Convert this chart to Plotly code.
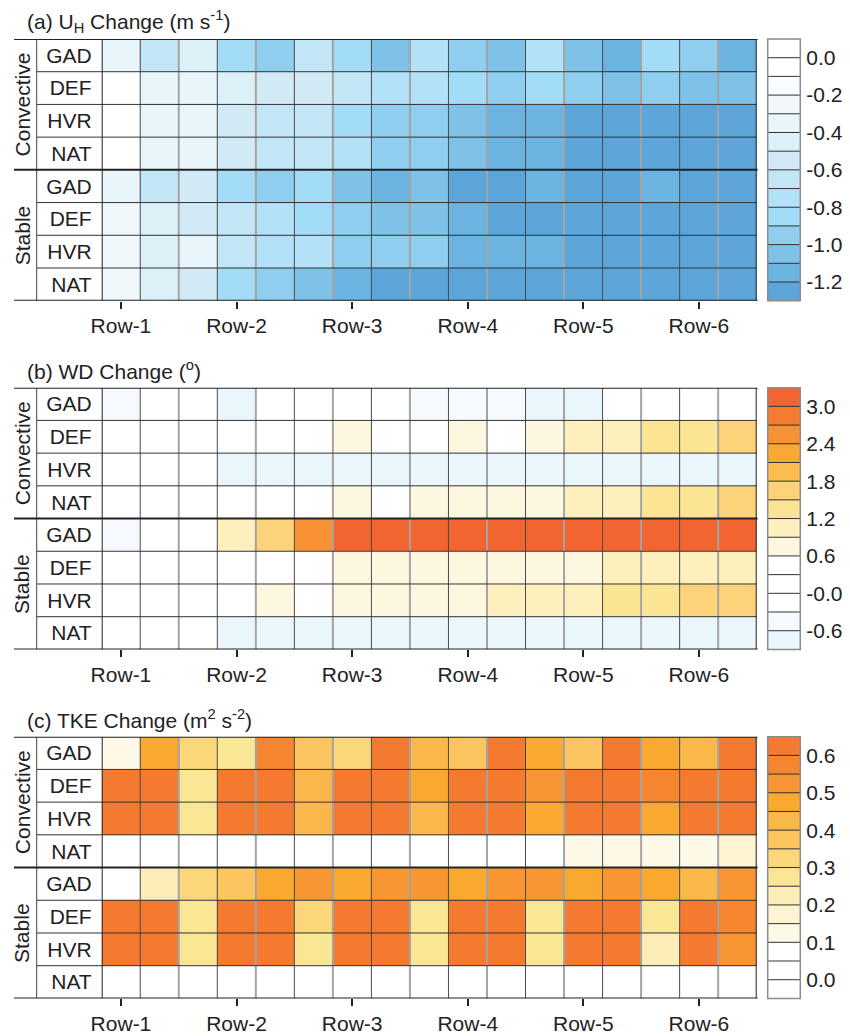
import plotly.graph_objects as go

FIG_W, FIG_H = 850, 1036
FONT = "Liberation Sans, Arial, Helvetica, sans-serif"
INK = "#222222"

row_labels = ["GAD", "DEF", "HVR", "NAT", "GAD", "DEF", "HVR", "NAT"]
group_labels = ["Convective", "Stable"]
turbine_cols = list(range(17))
row_tick_pos = [0, 3, 6, 9, 12, 15]
row_tick_text = ["Row-1", "Row-2", "Row-3", "Row-4", "Row-5", "Row-6"]

# (a) hub-height wind speed change (m/s); rows GAD, DEF, HVR, NAT
uh_convective = [
    [-0.35, -0.65, -0.45, -0.85, -0.95, -0.65, -0.85, -1.05, -0.75, -0.95, -1.05, -0.75, -1.05, -1.15, -0.85, -0.95, -1.15],
    [-0.05, -0.32, -0.32, -0.45, -0.55, -0.55, -0.65, -0.75, -0.75, -0.85, -0.95, -0.85, -0.95, -1.05, -0.95, -1.05, -1.05],
    [-0.05, -0.32, -0.32, -0.55, -0.65, -0.65, -0.85, -0.95, -0.95, -1.05, -1.15, -1.15, -1.25, -1.25, -1.25, -1.25, -1.25],
    [-0.05, -0.32, -0.32, -0.55, -0.65, -0.65, -0.75, -0.95, -0.95, -1.05, -1.15, -1.15, -1.25, -1.25, -1.25, -1.25, -1.25],
]
uh_stable = [
    [-0.35, -0.65, -0.55, -0.85, -0.95, -0.85, -1.05, -1.15, -1.05, -1.25, -1.25, -1.15, -1.25, -1.25, -1.15, -1.25, -1.25],
    [-0.25, -0.45, -0.55, -0.65, -0.75, -0.85, -0.95, -1.05, -1.05, -1.15, -1.25, -1.25, -1.25, -1.25, -1.25, -1.25, -1.25],
    [-0.25, -0.45, -0.35, -0.65, -0.75, -0.75, -0.95, -0.95, -0.95, -1.15, -1.15, -1.15, -1.25, -1.25, -1.25, -1.25, -1.25],
    [-0.25, -0.45, -0.55, -0.85, -0.95, -1.05, -1.15, -1.25, -1.25, -1.25, -1.25, -1.25, -1.25, -1.25, -1.25, -1.25, -1.25],
]

# (b) wind direction change (degrees)
wd_convective = [
    [-0.45, -0.1, -0.1, -0.75, 0.1, 0.1, 0.1, 0.1, -0.45, -0.45, -0.45, -0.75, -0.75, 0.1, 0.1, 0.1, 0.1],
    [0.1, 0.1, 0.1, 0.1, 0.1, 0.1, 0.75, 0.1, 0.1, 0.75, 0.1, 0.75, 1.05, 1.05, 1.35, 1.35, 1.65],
    [0.1, 0.1, 0.1, -0.75, -0.75, -0.75, -0.75, -0.75, -0.75, -0.75, -0.75, -0.75, -0.75, -0.75, -0.75, -0.75, -0.75],
    [0.1, 0.1, 0.1, 0.1, 0.1, 0.1, 0.75, 0.1, 0.75, 0.75, 0.75, 0.75, 1.05, 1.05, 1.35, 1.35, 1.65],
]
wd_stable = [
    [-0.45, 0.1, 0.1, 1.05, 1.65, 2.55, 3.15, 3.15, 3.15, 3.15, 3.15, 3.15, 3.15, 3.15, 3.15, 3.15, 3.15],
    [0.1, 0.1, 0.1, 0.1, 0.1, 0.1, 0.75, 0.75, 0.75, 0.75, 0.75, 0.75, 0.75, 1.05, 1.05, 1.05, 1.05],
    [0.1, 0.1, 0.1, 0.1, 0.75, 0.1, 0.75, 0.75, 0.75, 0.75, 1.05, 1.05, 1.05, 1.35, 1.35, 1.65, 1.65],
    [0.1, 0.1, 0.1, -0.75, -0.75, -0.75, -0.75, -0.75, -0.75, -0.75, -0.75, -0.75, -0.75, -0.75, -0.75, -0.75, -0.75],
]

# (c) turbulent kinetic energy change (m2/s2)
tke_convective = [
    [0.125, 0.475, 0.325, 0.275, 0.575, 0.375, 0.325, 0.625, 0.425, 0.375, 0.625, 0.475, 0.375, 0.625, 0.475, 0.425, 0.625],
    [0.625, 0.625, 0.275, 0.625, 0.625, 0.425, 0.625, 0.625, 0.475, 0.625, 0.625, 0.525, 0.625, 0.625, 0.575, 0.625, 0.625],
    [0.625, 0.625, 0.275, 0.625, 0.625, 0.425, 0.625, 0.625, 0.425, 0.625, 0.625, 0.475, 0.625, 0.625, 0.475, 0.625, 0.625],
    [0.025, 0.025, 0.025, 0.025, 0.025, 0.025, 0.025, 0.025, 0.025, 0.025, 0.025, 0.025, 0.125, 0.125, 0.125, 0.125, 0.175],
]
tke_stable = [
    [0.025, 0.225, 0.325, 0.375, 0.475, 0.525, 0.475, 0.525, 0.525, 0.475, 0.525, 0.525, 0.475, 0.525, 0.475, 0.425, 0.525],
    [0.625, 0.625, 0.275, 0.625, 0.625, 0.325, 0.625, 0.625, 0.275, 0.625, 0.625, 0.275, 0.625, 0.625, 0.275, 0.625, 0.575],
    [0.625, 0.625, 0.275, 0.625, 0.625, 0.275, 0.625, 0.625, 0.275, 0.625, 0.625, 0.275, 0.625, 0.625, 0.225, 0.625, 0.525],
    [0.025, 0.025, 0.025, 0.025, 0.025, 0.025, 0.025, 0.025, 0.025, 0.025, 0.025, 0.025, 0.025, 0.025, 0.025, 0.025, 0.025],
]

# contour levels (ascending) and fill colours, lowest bin first
uh_levels = [-1.2, -1.1, -1.0, -0.9, -0.8, -0.7, -0.6, -0.5, -0.4, -0.3, -0.2, -0.1, 0.0]
uh_colors = ["#5BA5D8", "#6BB3E0", "#7EC2E8", "#8FCEEE", "#A3DCF6", "#B3E2F8", "#C2E6F5",
             "#D2EAF6", "#DCF0F8", "#E8F5FB", "#F0F8FC", "#F8FCFE", "#FFFFFF", "#FFFFFF"]
uh_ticktext = ["-1.2", "-1.0", "-0.8", "-0.6", "-0.4", "-0.2", "0.0"]

wd_levels = [-0.6, -0.3, 0.0, 0.3, 0.6, 0.9, 1.2, 1.5, 1.8, 2.1, 2.4, 2.7, 3.0]
wd_colors = ["#EAF6FC", "#F6FAFE", "#FFFFFF", "#FFFFFF", "#FFFFFF", "#FEF7E0", "#FDF0BD",
             "#FBE594", "#FCD27A", "#FBBD4F", "#F9A933", "#F79234", "#F47B30", "#F26430"]
wd_ticktext = ["-0.6", "-0.0", "0.6", "1.2", "1.8", "2.4", "3.0"]

tke_levels = [0.0, 0.05, 0.1, 0.15, 0.2, 0.25, 0.3, 0.35, 0.4, 0.45, 0.5, 0.55, 0.6]
tke_colors = ["#FFFFFF", "#FFFFFF", "#FFFFFF", "#FEF9E6", "#FEF4D2", "#FCEDB8", "#FAE796",
              "#FCD77A", "#FCC560", "#FBB84A", "#F9A92F", "#F79632", "#F5862F", "#F37A2F"]
tke_ticktext = ["0.0", "0.1", "0.2", "0.3", "0.4", "0.5", "0.6"]

titles = [
    "(a) U<sub>H</sub> Change (m s<sup>-1</sup>)",
    "(b) WD Change (<sup>o</sup>)",
    "(c) TKE Change (m<sup>2</sup> s<sup>-2</sup>)",
]

panels = [
    (uh_convective + uh_stable, uh_levels, uh_colors, uh_ticktext),
    (wd_convective + wd_stable, wd_levels, wd_colors, wd_ticktext),
    (tke_convective + tke_stable, tke_levels, tke_colors, tke_ticktext),
]

# page geometry in pixels
PANEL_TOPS = [39.0, 387.7, 736.7]
PANEL_H = 261.7
GRID_X0, GRID_X1 = 101.7, 756.7
LABEL_X0 = 36.7
GROUP_X0 = 14.0
CBAR_X0, CBAR_X1 = 767.7, 800.3


def px(x):
    return x / FIG_W


def py(y):
    return 1 - y / FIG_H


def step_scale(colors):
    n = len(colors)
    scale = []
    for i, c in enumerate(colors):
        scale.append([i / n, c])
        scale.append([(i + 1) / n, c])
    return scale


fig = go.Figure()
shapes = []
annotations = []
layout_axes = {}

for p, (z, levels, colors, ticktext) in enumerate(panels):
    step = round(levels[1] - levels[0], 6)
    zmin = round(levels[0] - step, 6)
    zmax = round(levels[-1] + step, 6)
    scale = step_scale(colors)

    gi = p + 1
    ci = p + 4
    gx, gy = ("x", "y") if gi == 1 else (f"x{gi}", f"y{gi}")
    cx, cy = f"x{ci}", f"y{ci}"
    top = PANEL_TOPS[p]
    ydom = [py(top + PANEL_H), py(top)]

    fig.add_trace(go.Heatmap(
        z=z, x=turbine_cols, y=list(range(len(row_labels))),
        colorscale=scale, zmin=zmin, zmax=zmax, showscale=False,
        xgap=0, ygap=0, xaxis=gx, yaxis=gy, hoverinfo="z",
    ))

    # colour key drawn as a one-column heatmap on a value axis
    centers = [zmin + step * (i + 0.5) for i in range(len(colors))]
    fig.add_trace(go.Heatmap(
        z=[[c] for c in centers], x=[0], y=centers,
        colorscale=scale, zmin=zmin, zmax=zmax, showscale=False,
        xaxis=cx, yaxis=cy, hoverinfo="skip",
    ))

    gxa = "xaxis" if gi == 1 else f"xaxis{gi}"
    gya = "yaxis" if gi == 1 else f"yaxis{gi}"
    layout_axes[gxa] = dict(
        domain=[px(GRID_X0), px(GRID_X1)], range=[-0.5, 16.5], anchor=gy,
        tickvals=row_tick_pos, ticktext=row_tick_text,
        ticks="outside", ticklen=7, tickwidth=2, tickcolor=INK,
        ticklabelstandoff=-1,
        showgrid=False, zeroline=False, showline=False, automargin=False,
        tickfont=dict(size=21, color=INK, family=FONT), fixedrange=True,
    )
    layout_axes[gya] = dict(
        domain=ydom, range=[7.5, -0.5], anchor=gx,
        tickvals=list(range(len(row_labels))), ticktext=row_labels,
        ticks="", showgrid=False, zeroline=False, showline=False,
        ticklabelstandoff=9, automargin=False,
        tickfont=dict(size=21, color=INK, family=FONT), fixedrange=True,
    )
    layout_axes[f"xaxis{ci}"] = dict(
        domain=[px(CBAR_X0), px(CBAR_X1)], range=[-0.5, 0.5], anchor=cy,
        visible=False, fixedrange=True,
    )
    layout_axes[f"yaxis{ci}"] = dict(
        domain=ydom, range=[zmin, zmax], anchor=cx, side="right",
        tickvals=levels[::2], ticktext=ticktext, ticks="",
        showgrid=False, zeroline=False, showline=False,
        ticklabelstandoff=5, automargin=False,
        tickfont=dict(size=21, color=INK, family=FONT), fixedrange=True,
    )

    # interior cell borders
    for k in range(1, 17):
        dark = k % 2 == 1
        shapes.append(dict(type="line", xref=gx, yref=gy, x0=k - 0.5, x1=k - 0.5, y0=-0.5, y1=7.5,
                           line=dict(color="#4A4A4A" if dark else "#A4A4A4", width=1 if dark else 2)))
    for r in [0.5, 1.5, 2.5, 4.5, 5.5, 6.5]:
        shapes.append(dict(type="line", xref="paper", yref=gy, x0=px(LABEL_X0), x1=px(GRID_X1), y0=r, y1=r,
                           line=dict(color="#333333", width=1)))
    # row-label column divider
    shapes.append(dict(type="line", xref="paper", yref=gy, x0=px(LABEL_X0), x1=px(LABEL_X0), y0=-0.5, y1=7.5,
                       line=dict(color="#444444", width=1)))
    # heavy frame lines
    for r in [-0.5, 3.5, 7.5]:
        shapes.append(dict(type="line", xref="paper", yref=gy, x0=px(GROUP_X0), x1=px(GRID_X1) + 0.001, y0=r, y1=r,
                           line=dict(color=INK, width=2)))
    for xv in [-0.5, 16.5]:
        shapes.append(dict(type="line", xref=gx, yref=gy, x0=xv, x1=xv, y0=-0.5, y1=7.5,
                           line=dict(color=INK, width=2)))

    # colour key separators and outline
    for lv in levels:
        shapes.append(dict(type="line", xref=f"{cx} domain", yref=cy, x0=0, x1=1, y0=lv, y1=lv,
                           line=dict(color="#333333", width=1)))
    shapes.append(dict(type="rect", xref=f"{cx} domain", yref=f"{cy} domain", x0=0, x1=1, y0=0, y1=1,
                       line=dict(color="#8C8C8C", width=1.5)))

    # panel title
    annotations.append(dict(text=titles[p], xref="paper", yref="paper", x=px(25), y=py(top - 18),
                            xanchor="left", yanchor="middle", showarrow=False,
                            font=dict(size=21, color=INK, family=FONT)))
    # stability group labels
    for g, yc in zip(group_labels, [1.5, 5.5]):
        annotations.append(dict(text=g, xref="paper", yref=gy, x=px(22), y=yc, textangle=-90,
                                xanchor="center", yanchor="middle", showarrow=False,
                                font=dict(size=21, color=INK, family=FONT)))

fig.update_layout(
    width=FIG_W, height=FIG_H,
    margin=dict(l=0, r=0, t=0, b=0, pad=0, autoexpand=False),
    paper_bgcolor="white", plot_bgcolor="white",
    font=dict(family=FONT, color=INK, size=21),
    shapes=shapes, annotations=annotations,
    showlegend=False,
    **layout_axes,
)

fig.write_html("out.html")
